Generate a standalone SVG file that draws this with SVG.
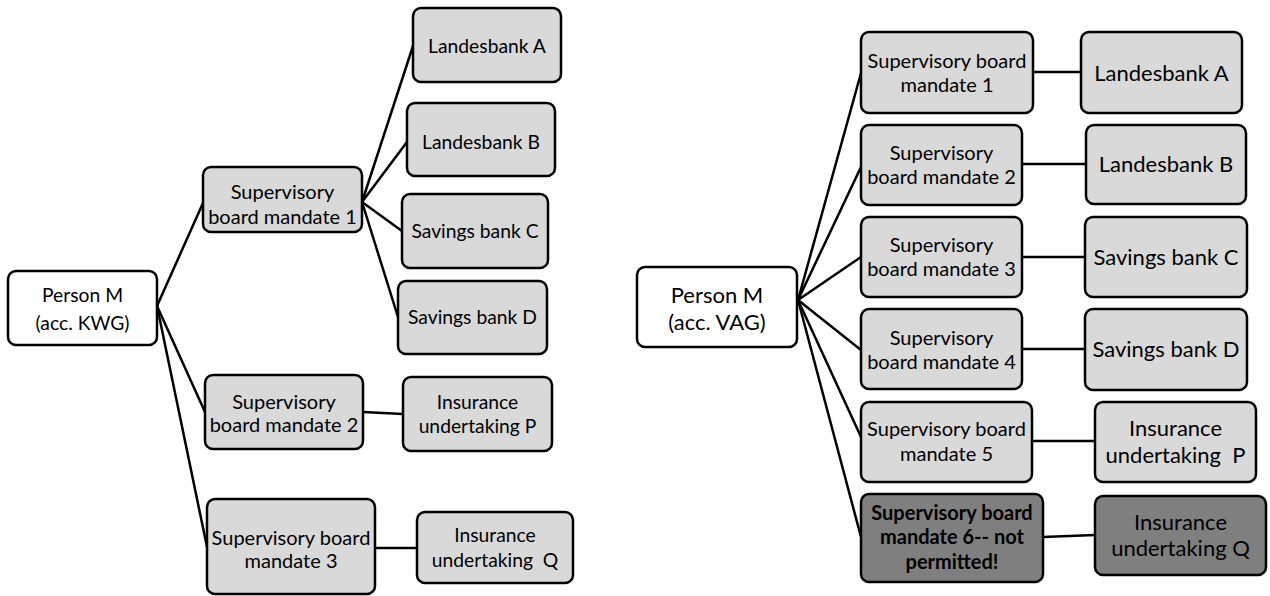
<svg xmlns="http://www.w3.org/2000/svg" width="1270" height="596" viewBox="0 0 1270 596">
  <style>
    .box { stroke: #000; stroke-width: 2.5; }
    .light { fill: #d9d9d9; }
    .white { fill: #ffffff; }
    .dark { fill: #7f7f7f; }
    .link { stroke: #000; stroke-width: 2.5; fill: none; stroke-linecap: round; }
    text { font-family: Lato, "Liberation Sans", sans-serif; fill: #000; text-anchor: middle; white-space: pre; }
    .s { font-size: 19.3px; }
    .m { font-size: 20px; }
    .l { font-size: 22px; }
    .b { font-weight: bold; }
  </style>
  <rect width="1270" height="596" fill="#ffffff"/>

  <!-- connectors -->
  <g id="connectors">
    <!-- KWG tree -->
    <line class="link" x1="157" y1="306" x2="203" y2="203"/>
    <line class="link" x1="157" y1="306" x2="205" y2="412"/>
    <line class="link" x1="157" y1="306" x2="207" y2="547"/>
    <line class="link" x1="362" y1="202" x2="413" y2="46"/>
    <line class="link" x1="362" y1="202" x2="407" y2="142"/>
    <line class="link" x1="362" y1="202" x2="402" y2="231"/>
    <line class="link" x1="362" y1="202" x2="398" y2="317"/>
    <line class="link" x1="363" y1="412" x2="403" y2="414"/>
    <line class="link" x1="375" y1="548" x2="417" y2="548"/>
    <!-- VAG tree -->
    <line class="link" x1="798" y1="300" x2="861" y2="73"/>
    <line class="link" x1="798" y1="300" x2="861" y2="167"/>
    <line class="link" x1="798" y1="300" x2="861" y2="257"/>
    <line class="link" x1="798" y1="300" x2="861" y2="350"/>
    <line class="link" x1="798" y1="300" x2="861" y2="437"/>
    <line class="link" x1="798" y1="300" x2="861" y2="537"/>
    <line class="link" x1="1033" y1="72" x2="1081" y2="72"/>
    <line class="link" x1="1022" y1="164" x2="1086" y2="164"/>
    <line class="link" x1="1022" y1="257" x2="1085" y2="257"/>
    <line class="link" x1="1022" y1="349" x2="1085" y2="349"/>
    <line class="link" x1="1032" y1="441" x2="1095" y2="441"/>
    <line class="link" x1="1043" y1="537" x2="1095" y2="535"/>
  </g>

  <!-- KWG tree nodes -->
  <g id="kwg-person">
    <rect class="box white" x="8" y="271" width="149" height="74" rx="8"/>
    <text class="s" x="82.5" y="302">Person M</text>
    <text class="s" x="82.5" y="330">(acc. KWG)</text>
  </g>
  <g id="kwg-mandate-1">
    <rect class="box light" x="203" y="167" width="159" height="65" rx="8"/>
    <text class="m" x="282.5" y="199">Supervisory</text>
    <text class="m" x="282.5" y="224">board mandate 1</text>
  </g>
  <g id="kwg-landesbank-a">
    <rect class="box light" x="413" y="8" width="148" height="74" rx="8"/>
    <text class="s" x="487" y="53">Landesbank A</text>
  </g>
  <g id="kwg-landesbank-b">
    <rect class="box light" x="407" y="103" width="148" height="73" rx="8"/>
    <text class="s" x="481" y="149">Landesbank B</text>
  </g>
  <g id="kwg-savings-c">
    <rect class="box light" x="402" y="194" width="146" height="74" rx="8"/>
    <text class="s" x="475" y="238">Savings bank C</text>
  </g>
  <g id="kwg-savings-d">
    <rect class="box light" x="398" y="281" width="149" height="73" rx="8"/>
    <text class="s" x="472.5" y="324">Savings bank D</text>
  </g>
  <g id="kwg-mandate-2">
    <rect class="box light" x="205" y="375" width="158" height="74" rx="8"/>
    <text class="m" x="284" y="409">Supervisory</text>
    <text class="m" x="284" y="432">board mandate 2</text>
  </g>
  <g id="kwg-insurance-p">
    <rect class="box light" x="403" y="377" width="149" height="74" rx="8"/>
    <text class="s" x="477.5" y="409">Insurance</text>
    <text class="s" x="477.5" y="433">undertaking P</text>
  </g>
  <g id="kwg-mandate-3">
    <rect class="box light" x="207" y="499" width="168" height="95" rx="8"/>
    <text class="m" x="291" y="545">Supervisory board</text>
    <text class="m" x="291" y="568">mandate 3</text>
  </g>
  <g id="kwg-insurance-q">
    <rect class="box light" x="417" y="512" width="156" height="71" rx="8"/>
    <text class="s" x="495" y="542">Insurance</text>
    <text class="s" x="495" y="567">undertaking  Q</text>
  </g>

  <!-- VAG tree nodes -->
  <g id="vag-person">
    <rect class="box white" x="637" y="267" width="160" height="80" rx="8"/>
    <text class="l" x="717" y="303">Person M</text>
    <text class="l" x="717" y="330">(acc. VAG)</text>
  </g>
  <g id="vag-mandate-1">
    <rect class="box light" x="861" y="32" width="172" height="81" rx="8"/>
    <text class="m" x="947" y="68">Supervisory board</text>
    <text class="m" x="947" y="92">mandate 1</text>
  </g>
  <g id="vag-landesbank-a">
    <rect class="box light" x="1081" y="32" width="161" height="81" rx="8"/>
    <text class="l" x="1161.5" y="81">Landesbank A</text>
  </g>
  <g id="vag-mandate-2">
    <rect class="box light" x="861" y="125" width="161" height="80" rx="8"/>
    <text class="m" x="941.5" y="160">Supervisory</text>
    <text class="m" x="941.5" y="184">board mandate 2</text>
  </g>
  <g id="vag-landesbank-b">
    <rect class="box light" x="1086" y="125" width="160" height="79" rx="8"/>
    <text class="l" x="1166" y="172">Landesbank B</text>
  </g>
  <g id="vag-mandate-3">
    <rect class="box light" x="861" y="217" width="161" height="80" rx="8"/>
    <text class="m" x="941.5" y="252">Supervisory</text>
    <text class="m" x="941.5" y="276">board mandate 3</text>
  </g>
  <g id="vag-savings-c">
    <rect class="box light" x="1085" y="217" width="162" height="80" rx="8"/>
    <text class="l" x="1166" y="265">Savings bank C</text>
  </g>
  <g id="vag-mandate-4">
    <rect class="box light" x="861" y="309" width="161" height="80" rx="8"/>
    <text class="m" x="941.5" y="345">Supervisory</text>
    <text class="m" x="941.5" y="369">board mandate 4</text>
  </g>
  <g id="vag-savings-d">
    <rect class="box light" x="1085" y="309" width="162" height="81" rx="8"/>
    <text class="l" x="1166" y="357">Savings bank D</text>
  </g>
  <g id="vag-mandate-5">
    <rect class="box light" x="861" y="402" width="171" height="80" rx="8"/>
    <text class="m" x="946.5" y="436">Supervisory board</text>
    <text class="m" x="946.5" y="461">mandate 5</text>
  </g>
  <g id="vag-insurance-p">
    <rect class="box light" x="1095" y="402" width="161" height="80" rx="8"/>
    <text class="l" x="1175.5" y="436">Insurance</text>
    <text class="l" x="1175.5" y="463">undertaking  P</text>
  </g>
  <g id="vag-mandate-6">
    <rect class="box dark" x="861" y="494" width="182" height="88" rx="8"/>
    <text class="m b" x="952" y="520">Supervisory board</text>
    <text class="m b" x="952" y="544">mandate 6-- not</text>
    <text class="m b" x="952" y="569">permitted!</text>
  </g>
  <g id="vag-insurance-q">
    <rect class="box dark" x="1095" y="496" width="171" height="79" rx="8"/>
    <text class="l" x="1180.5" y="530">Insurance</text>
    <text class="l" x="1180.5" y="556">undertaking Q</text>
  </g>
</svg>
